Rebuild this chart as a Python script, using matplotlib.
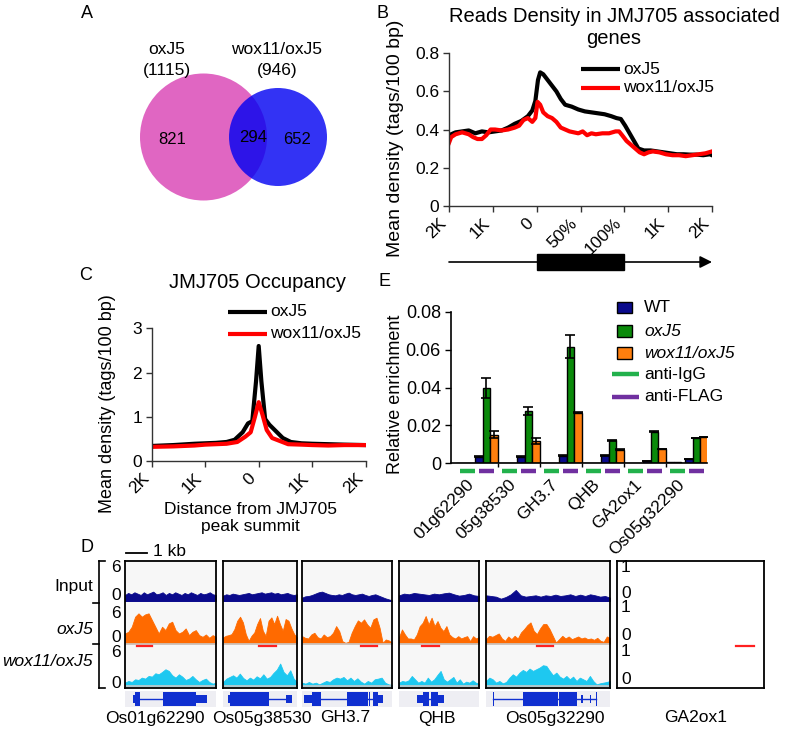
import numpy as np
import matplotlib
matplotlib.use('Agg')
import matplotlib.pyplot as plt
from matplotlib.patches import Circle, Rectangle
import matplotlib.transforms as mtransforms

W, H = 796, 731
plt.rcParams['font.family'] = ['Liberation Sans', 'DejaVu Sans']
plt.rcParams['font.size'] = 12.5

# ------------------------------------------------------------------ data
venn_sets = ['oxJ5', 'wox11/oxJ5']
venn_totals = [1115, 946]
venn_only = [821, 652]
venn_shared = 294

b_xticklabels = ['2K', '1K', '0', '50%', '100%', '1K', '2K']
b_x_ox = [0, 0.15, 0.3, 0.45, 0.6, 0.75, 0.9, 1.05, 1.2, 1.35, 1.5, 1.65, 1.8, 1.9, 1.97,
          2.03, 2.08, 2.15, 2.25, 2.35, 2.45, 2.55, 2.65, 2.8, 2.95, 3.1, 3.25, 3.4, 3.55,
          3.7, 3.82, 3.92, 4.02, 4.12, 4.22, 4.32, 4.45, 4.6, 4.75, 4.9, 5.05, 5.2, 5.35,
          5.5, 5.65, 5.8, 5.95, 6.0]
b_oxj5 = [0.37, 0.385, 0.39, 0.395, 0.38, 0.39, 0.385, 0.39, 0.395, 0.41, 0.43, 0.445, 0.47,
          0.50, 0.55, 0.66, 0.70, 0.69, 0.66, 0.63, 0.60, 0.56, 0.53, 0.52, 0.505, 0.495,
          0.49, 0.485, 0.48, 0.47, 0.46, 0.455, 0.42, 0.38, 0.34, 0.30, 0.29, 0.29, 0.285,
          0.28, 0.275, 0.27, 0.27, 0.268, 0.268, 0.265, 0.27, 0.265]
b_x_wox = [0, 0.05, 0.15, 0.3, 0.45, 0.55, 0.65, 0.75, 0.85, 0.95, 1.05, 1.2, 1.35, 1.5, 1.6,
           1.7, 1.8, 1.9, 1.97, 2.02, 2.08, 2.15, 2.25, 2.35, 2.45, 2.55, 2.65, 2.75, 2.85,
           2.95, 3.05, 3.15, 3.25, 3.35, 3.5, 3.65, 3.8, 3.88, 3.95, 4.05, 4.15, 4.25, 4.35,
           4.45, 4.55, 4.65, 4.8, 4.95, 5.1, 5.25, 5.4, 5.55, 5.7, 5.85, 6.0]
b_wox = [0.33, 0.36, 0.375, 0.385, 0.375, 0.36, 0.35, 0.35, 0.37, 0.40, 0.40, 0.395, 0.40,
         0.41, 0.42, 0.45, 0.46, 0.44, 0.46, 0.545, 0.53, 0.49, 0.47, 0.46, 0.44, 0.41, 0.40,
         0.39, 0.385, 0.38, 0.39, 0.37, 0.38, 0.375, 0.38, 0.38, 0.39, 0.39, 0.37, 0.34,
         0.32, 0.30, 0.28, 0.27, 0.28, 0.285, 0.28, 0.27, 0.265, 0.265, 0.26, 0.265, 0.27,
         0.275, 0.285]

c_xticklabels = ['2K', '1K', '0', '1K', '2K']
c_x_ox = [-2, -1.6, -1.2, -1.0, -0.8, -0.6, -0.45, -0.3, -0.2, -0.12, -0.05, 0, 0.05, 0.12,
          0.2, 0.3, 0.45, 0.6, 0.8, 1.0, 1.3, 1.6, 2.0]
c_oxj5 = [0.34, 0.36, 0.39, 0.40, 0.41, 0.43, 0.48, 0.65, 0.85, 0.9, 1.8, 2.6, 1.8, 0.95,
          0.82, 0.7, 0.52, 0.43, 0.40, 0.39, 0.38, 0.37, 0.36]
c_x_wox = [-2, -1.6, -1.2, -1.0, -0.8, -0.6, -0.4, -0.25, -0.15, -0.07, 0, 0.07, 0.15, 0.25,
           0.4, 0.55, 0.8, 1.0, 1.3, 1.6, 2.0]
c_wox = [0.32, 0.33, 0.35, 0.37, 0.38, 0.39, 0.43, 0.55, 0.65, 1.0, 1.33, 1.05, 0.7, 0.52,
         0.45, 0.38, 0.37, 0.36, 0.35, 0.36, 0.36]

e_genes = ['01g62290', '05g38530', 'GH3.7', 'QHB', 'GA2ox1', 'Os05g32290']
e_series = ['WT', 'oxJ5', 'wox11/oxJ5']
e_igg_wt = [0.0004, 0.0001, 0.0004, 0.0002, 0.0003, 0.0005]
e_igg_ox = [0.0001, 0.0001, 0.0001, 0.0001, 0.0001, 0.0005]
e_igg_wox = [0.0001, 0.0001, 0.0001, 0.0001, 0.0001, 0.0001]
e_flag_wt = [0.0035, 0.0035, 0.0040, 0.0042, 0.0013, 0.0023]
e_flag_ox = [0.0396, 0.0277, 0.0615, 0.0122, 0.0166, 0.0133]
e_flag_wox = [0.0151, 0.0117, 0.0267, 0.0071, 0.0075, 0.0140]
e_flag_wt_err = [0.0002, 0.0002, 0.0002, 0.0002, 0.0001, 0.0001]
e_flag_ox_err = [0.0052, 0.0022, 0.0060, 0.0003, 0.0003, 0.0002]
e_flag_wox_err = [0.0020, 0.0014, 0.0004, 0.0002, 0.0002, 0.0001]

d_genes = ['Os01g62290', 'Os05g38530', 'GH3.7', 'QHB', 'Os05g32290', 'GA2ox1']
d_tracks = ['Input', 'oxJ5', 'wox11/oxJ5']
input_os01 = [0.9, 1.2, 1.0, 1.3, 1.1, 0.9, 1.3, 1.0, 1.2, 1.4, 1.0, 1.1, 1.3, 0.9, 1.2, 1.0,
              1.3, 1.1, 0.9, 1.2, 1.0, 1.3, 1.1, 0.9, 1.2, 1.0, 1.1, 1.3, 1.0, 0.9]
oxj5_os01 = [1.5, 1.75, 2.5, 4.0, 4.5, 4.0, 4.35, 4.5, 3.5, 2.5, 1.5, 2.5, 2.0, 3.0, 3.25,
             2.0, 1.5, 1.75, 2.25, 1.25, 1.75, 2.0, 1.25, 1.0, 1.35, 0.85, 1.25, 1.0]
wox_os01 = [0.5, 0.75, 0.6, 1.0, 0.9, 1.25, 1.1, 1.5, 1.4, 1.9, 1.75, 2.1, 2.5, 2.25, 1.6,
            1.25, 1.75, 1.4, 0.9, 1.1, 1.5, 1.0, 0.6, 0.9, 1.1, 0.6, 0.35, 0.5]
input_os0538 = [0.8, 1.0, 0.9, 1.1, 1.0, 0.9, 1.0, 1.1, 1.2, 1.0, 1.1, 1.2, 1.3, 1.1, 1.2,
                1.3, 1.1, 1.2, 1.0, 1.1, 1.2, 1.0, 0.9, 1.0]
oxj5_os0538 = [0.9, 1.15, 1.25, 1.4, 2.15, 3.4, 4.0, 3.15, 1.4, 0.4, 1.15, 1.65, 2.9, 3.8,
               1.9, 1.15, 3.4, 3.9, 2.9, 4.15, 2.9, 1.9, 3.65, 3.4, 2.3, 1.4, 0.9]
wox_os0538 = [0.6, 1.1, 1.35, 1.6, 1.25, 1.85, 1.2, 0.85, 1.25, 0.95, 1.45, 1.15, 1.75, 1.1,
              1.35, 1.95, 2.45, 3.35, 2.1, 1.6, 2.35, 1.1, 0.6]
input_gh37 = [0.5, 0.7, 0.75, 0.9, 1.1, 1.3, 1.4, 1.2, 1.0, 0.9, 0.85, 1.0, 0.9, 1.1, 1.25,
              1.0, 0.9, 1.0, 1.1, 0.9, 0.75, 0.9, 1.0, 0.8, 0.6, 0.4, 0.25, 0.1]
oxj5_gh37 = [1.1, 0.85, 0.75, 1.35, 1.6, 0.95, 0.75, 1.35, 0.95, 1.1, 1.6, 2.6, 1.85, 0.35,
             0.1, 0.25, 1.6, 2.6, 3.45, 3.1, 3.6, 2.85, 2.35, 3.6, 3.85, 2.35, 0.1, 0.6, 0.45, 0.1]
wox_gh37 = [0.5, 0.35, 0.6, 0.35, 0.5, 0.25, 0.5, 0.75, 0.6, 1.0, 1.25, 1.1, 1.35, 0.85, 1.25,
            0.75, 1.15, 0.65, 0.35, 0.75, 0.5, 1.0, 1.1, 1.25, 0.5, 0.25, 0.15]
input_qhb = [0.85, 1.1, 1.0, 1.2, 1.1, 1.0, 0.9, 1.1, 1.0, 1.15, 1.25, 1.0, 0.8, 0.9, 1.1,
             0.85, 0.75]
oxj5_qhb = [0.95, 2.1, 1.35, 0.75, 0.75, 0.6, 1.35, 2.6, 3.1, 4.1, 2.85, 3.85, 2.6, 3.35,
            2.35, 1.85, 2.6, 1.35, 0.95, 0.75, 1.1, 0.75, 0.95, 1.1, 0.35, 1.1, 0.75, 0.95]
wox_qhb = [0.5, 0.75, 0.65, 0.85, 1.5, 1.0, 0.5, 0.75, 0.5, 1.25, 0.65, 1.0, 1.65, 2.25, 1.0,
           0.65, 1.0, 1.35, 0.5, 1.0, 0.35, 0.65, 0.5, 0.85, 0.5, 0.35]
input_os0532 = [0.85, 0.75, 0.65, 0.35, 0.6, 1.0, 1.65, 0.85, 0.65, 0.75, 0.85, 0.65, 0.85,
                0.75, 0.95, 0.75, 0.85, 1.0, 0.75, 0.95, 0.75, 1.0, 0.85, 0.65, 0.75, 0.5]
oxj5_os0532 = [0.65, 1.15, 1.0, 1.25, 1.5, 0.75, 0.4, 1.05, 0.65, 1.15, 0.75, 1.65, 2.15,
               2.75, 3.15, 1.9, 1.4, 2.25, 2.9, 2.9, 2.15, 1.15, 0.15, 0.65, 1.15, 0.75, 1.05,
               0.65, 0.85, 1.05, 0.75, 0.9, 0.65, 0.75, 0.55, 0.85, 0.4, 0.25, 1.05, 0.85]
wox_os0532 = [0.75, 1.25, 1.0, 0.5, 0.75, 0.4, 0.6, 1.25, 1.75, 1.4, 2.0, 2.4, 2.1, 2.6, 2.25,
              2.5, 2.75, 3.1, 3.0, 2.25, 1.6, 2.0, 1.4, 1.1, 1.5, 1.0, 1.4, 0.75, 1.25, 1.0,
              0.75, 1.5, 0.75, 0.25, 0.4, 0.5, 0.6, 0.75]
# peak regions (fraction of window)
peak_os01 = (0.13, 0.30)
peak_os0538 = (0.49, 0.72)
peak_gh37 = (0.65, 0.83)
peak_qhb = (0.29, 0.50)
peak_os0532 = (0.41, 0.54)
peak_ga2ox1 = (0.81, 0.93)
# gene models (fraction of window)
model_os01 = [('mid', 0.09, 0.11), ('tall', 0.11, 0.16), ('intron', 0.16, 0.42),
              ('tall', 0.42, 0.78), ('mid', 0.78, 0.90)]
model_os0538 = [('mid', 0.07, 0.10), ('tall', 0.10, 0.62), ('intron', 0.62, 0.85),
                ('mid', 0.85, 0.93)]
model_gh37 = [('mid', 0.02, 0.11), ('tall', 0.11, 0.21), ('intron', 0.21, 0.79),
              ('tall', 0.50, 0.73), ('tall', 0.74, 0.76), ('tall', 0.79, 0.84),
              ('mid', 0.84, 0.90)]
model_qhb = [('mid', 0.23, 0.30), ('tall', 0.30, 0.37), ('intron', 0.37, 0.40),
             ('tall', 0.40, 0.49), ('mid', 0.49, 0.56)]
model_os0532 = [('tall', 0.055, 0.065), ('intron', 0.06, 0.89), ('tall', 0.30, 0.58),
                ('tall', 0.59, 0.73), ('mid', 0.77, 0.78), ('mid', 0.835, 0.845),
                ('tall', 0.885, 0.895)]

# ------------------------------------------------------------------ figure
fig = plt.figure(figsize=(W / 100, H / 100), dpi=100)


def R(x0, y0, x1, y1):
    return [x0 / W, 1 - y1 / H, (x1 - x0) / W, (y1 - y0) / H]


ov = fig.add_axes([0, 0, 1, 1])
ov.set_xlim(0, W)
ov.set_ylim(H, 0)
ov.axis('off')
ov.set_zorder(10)
ov.patch.set_alpha(0)


def T(x, y, s, **kw):
    kw.setdefault('ha', 'center')
    kw.setdefault('va', 'center')
    ov.text(x, y, s, **kw)


def style_axes(ax, color='#333333'):
    for s in ['top', 'right']:
        ax.spines[s].set_visible(False)
    for s in ['left', 'bottom']:
        ax.spines[s].set_color(color)
        ax.spines[s].set_linewidth(1.0)
    ax.tick_params(direction='out', length=4, width=1, color=color, labelsize=12.5, pad=3)


# ---------------- A: Venn
ov.add_patch(Circle((203.5, 137), 63.5, facecolor='#E066C2', edgecolor='none'))
ov.add_patch(Circle((278, 137), 49, facecolor=(0, 0, 0.95), alpha=0.8, edgecolor='none'))
T(87, 14, 'A', fontsize=13)
T(167, 49, venn_sets[0], fontsize=12.5)
T(167, 70, f'({venn_totals[0]})', fontsize=12.5)
T(277, 49, venn_sets[1], fontsize=12.5)
T(277, 70, f'({venn_totals[1]})', fontsize=12.5)
T(172, 140, str(venn_only[0]), fontsize=12)
T(253, 138, str(venn_shared), fontsize=12)
T(297.5, 140, str(venn_only[1]), fontsize=12)

# ---------------- B
T(383, 14, 'B', fontsize=13)
axB = fig.add_axes(R(449, 53.3, 712, 205.7))
axB.plot(b_x_ox, b_oxj5, color='black', lw=3)
axB.plot(b_x_wox, b_wox, color='#FF0000', lw=3)
axB.set_xlim(0, 6)
axB.set_ylim(0, 0.8)
axB.set_xticks(range(len(b_xticklabels)))
axB.set_xticklabels(b_xticklabels, rotation=45, ha='right')
axB.set_yticks([0, 0.2, 0.4, 0.6, 0.8])
axB.set_yticklabels(['0', '0.2', '0.4', '0.6', '0.8'])
style_axes(axB)
T(614, 28, 'Reads Density in JMJ705 associated\ngenes', fontsize=14.5)
T(395, 138, 'Mean density (tags/100 bp)', rotation=90, fontsize=14)
ov.plot([581, 620], [69, 69], color='black', lw=3, solid_capstyle='butt')
ov.plot([581, 620], [88, 88], color='#FF0000', lw=3, solid_capstyle='butt')
T(623, 69, venn_sets[0], ha='left')
T(623, 88, venn_sets[1], ha='left')

axG = fig.add_axes(R(449, 248, 712, 276))
axG.set_xlim(0, 6)
axG.set_ylim(-1, 1)
axG.axis('off')
axG.annotate('', xy=(6, 0), xytext=(0, 0),
             arrowprops=dict(arrowstyle='-|>', color='black', lw=1.2, mutation_scale=18,
                             shrinkA=0, shrinkB=0))
axG.add_patch(Rectangle((2, -0.6), 2, 1.2, facecolor='black', edgecolor='black'))

# ---------------- C
T(86, 275, 'C', fontsize=13)
axC = fig.add_axes(R(151.7, 328.3, 365.7, 461))
axC.plot(c_x_ox, c_oxj5, color='black', lw=3)
axC.plot(c_x_wox, c_wox, color='#FF0000', lw=3)
axC.set_xlim(-2, 2)
axC.set_ylim(0, 3)
axC.set_xticks([-2, -1, 0, 1, 2])
axC.set_xticklabels(c_xticklabels, rotation=45, ha='right')
axC.set_yticks([0, 1, 2, 3])
style_axes(axC)
T(257.5, 283, 'JMJ705 Occupancy', fontsize=14.5)
T(108, 404, 'Mean density (tags/100 bp)', rotation=90, fontsize=13)
ov.plot([228, 267], [312, 312], color='black', lw=3, solid_capstyle='butt')
ov.plot([228, 267], [334, 334], color='#FF0000', lw=3, solid_capstyle='butt')
T(270, 312, venn_sets[0], ha='left')
T(270, 334, venn_sets[1], ha='left')
T(250, 518, 'Distance from JMJ705\npeak summit', fontsize=12.5, linespacing=1.1)

# ---------------- E
T(384, 281, 'E', fontsize=13)
axE = fig.add_axes(R(450.7, 311.7, 707, 463.3))
col_wt, col_ox, col_wox = '#0A0A8C', '#0A8A0A', '#FF7F0E'
col_igg, col_flag = '#22B14C', '#7030A0'
gx = np.arange(len(e_genes))
bw = 0.176
off = 0.226
for sub, (wt, ox, wox) in [(-off, (e_igg_wt, e_igg_ox, e_igg_wox)),
                           (off, (e_flag_wt, e_flag_ox, e_flag_wox))]:
    for k, (vals, col) in enumerate([(wt, col_wt), (ox, col_ox), (wox, col_wox)]):
        axE.bar(gx + sub + (k - 1) * bw, vals, width=bw, color=col, edgecolor='black',
                linewidth=1.0, zorder=2)
for k, (vals, err) in enumerate([(e_flag_wt, e_flag_wt_err), (e_flag_ox, e_flag_ox_err),
                                 (e_flag_wox, e_flag_wox_err)]):
    axE.errorbar(gx + off + (k - 1) * bw, vals, yerr=err, fmt='none', ecolor='black',
                 elinewidth=1.2, capsize=3.5, capthick=1.2, zorder=3)
trE = mtransforms.blended_transform_factory(axE.transData, axE.transAxes)
for g in gx:
    axE.plot([g - off - 0.17, g - off + 0.17], [-0.05, -0.05], color=col_igg, lw=3.2,
             transform=trE, clip_on=False, solid_capstyle='butt')
    axE.plot([g + off - 0.17, g + off + 0.17], [-0.05, -0.05], color=col_flag, lw=3.2,
             transform=trE, clip_on=False, solid_capstyle='butt')
axE.set_xlim(-0.626, 5.476)
axE.set_ylim(0, 0.08)
axE.set_yticks([0, 0.02, 0.04, 0.06, 0.08])
axE.set_yticklabels(['0', '0.02', '0.04', '0.06', '0.08'])
axE.set_xticks(gx)
axE.set_xticklabels(e_genes, rotation=45, ha='right')
axE.set_xticks(gx[:-1] + 0.5, minor=True)
style_axes(axE, color='black')
axE.spines['left'].set_linewidth(1.2)
axE.spines['bottom'].set_linewidth(1.2)
axE.tick_params(axis='x', which='major', length=0, pad=10, labelsize=12.5)
axE.tick_params(axis='x', which='minor', length=3, width=1, direction='out')
axE.tick_params(axis='y', labelsize=13)
T(395, 394, 'Relative enrichment', rotation=90, fontsize=13)
for yc, col, lab, st in [(307.5, col_wt, e_series[0], 'normal'),
                         (331, col_ox, e_series[1], 'italic'),
                         (353, col_wox, e_series[2], 'italic')]:
    ov.add_patch(Rectangle((617, yc - 5.8), 15, 11.6, facecolor=col, edgecolor='black', lw=1))
    T(644, yc, lab, ha='left', style=st, fontsize=12.5)
ov.plot([612, 639], [374.3, 374.3], color=col_igg, lw=3.2, solid_capstyle='butt')
ov.plot([612, 639], [396.7, 396.7], color=col_flag, lw=3.2, solid_capstyle='butt')
T(644, 374.3, 'anti-IgG', ha='left', fontsize=12.5)
T(644, 396.7, 'anti-FLAG', ha='left', fontsize=12.5)

# ---------------- D
T(87, 547, 'D', fontsize=13)
ov.plot([126, 146.7], [553.3, 553.3], color='black', lw=1.3)
T(153, 552, '1 kb', ha='left', fontsize=12.5)
# bracket
ov.plot([99.3, 99.3], [561, 688], color='black', lw=1.2)
for yv, xs in [(561, (99.3, 105)), (602.7, (93, 99.3)), (644.3, (93, 99.3)), (688, (99.3, 105))]:
    ov.plot(list(xs), [yv, yv], color='black', lw=1.2)
for yv, s in [(567, '6'), (596, '0'), (613, '6'), (637, '0'), (652.5, '6'), (683, '0')]:
    T(116, yv, s, fontsize=12.5)
T(93, 586, d_tracks[0], ha='right', fontsize=12.5)
T(93, 629, d_tracks[1], ha='right', style='italic', fontsize=12.5)
T(93, 662, d_tracks[2], ha='right', style='italic', fontsize=12.5)

boxes = [(125, 216), (223, 297), (302, 392), (399, 479), (486, 610), (617, 764)]
cov = [(input_os01, oxj5_os01, wox_os01), (input_os0538, oxj5_os0538, wox_os0538),
       (input_gh37, oxj5_gh37, wox_gh37), (input_qhb, oxj5_qhb, wox_qhb),
       (input_os0532, oxj5_os0532, wox_os0532), None]
peaks = [peak_os01, peak_os0538, peak_gh37, peak_qhb, peak_os0532, peak_ga2ox1]
models = [model_os01, model_os0538, model_gh37, model_qhb, model_os0532, None]
label_x = [155, 262, 345, 437, 555, 696]
track_cols = ['#0A0A8C', '#FF6A00', '#1EC8F0']
bases = [87, 44.5, 2]
scale = 6.7
for i, (x0, x1) in enumerate(boxes):
    ax = fig.add_axes(R(x0, 561, x1, 688))
    ax.set_xlim(0, 1)
    ax.set_ylim(0, 127)
    ax.set_xticks([])
    ax.set_yticks([])
    for s in ax.spines.values():
        s.set_linewidth(1.3)
        s.set_color('black')
    if cov[i] is not None:
        ax.set_facecolor('#F7F7F7')
        for vals, col, b in zip(cov[i], track_cols, bases):
            v = np.asarray(vals)
            xs = np.linspace(0, 1, len(v))
            ax.fill_between(xs, b, b + v * scale, color=col, lw=0.6, edgecolor=col)
            ax.plot([0, 1], [b, b], color=col if b == bases[0] else '#C8C8C8', lw=1.2)
    else:
        ax.set_facecolor('white')
        for yv, s in [(568, '1'), (593, '0'), (608, '1'), (636, '0'), (651, '1'), (679, '0')]:
            T(621, yv, s, ha='left', fontsize=12.5)
    p0, p1 = peaks[i]
    ax.plot([p0, p1], [688 - 646, 688 - 646], color='#FF2020', lw=1.6)
    if models[i] is not None:
        ag = fig.add_axes(R(x0, 691, x1, 707))
        ag.set_xlim(0, 1)
        ag.set_ylim(-1, 1)
        ag.set_facecolor('#EEEEF3')
        ag.set_xticks([])
        ag.set_yticks([])
        for s in ag.spines.values():
            s.set_visible(False)
        for kind, a, b in models[i]:
            if kind == 'intron':
                ag.plot([a, b], [0, 0], color='#1030D0', lw=1.0)
            else:
                h = 0.9 if kind == 'tall' else 0.5
                ag.add_patch(Rectangle((a, -h), b - a, 2 * h, facecolor='#1030D0',
                                       edgecolor='none'))
    T(label_x[i], 718, d_genes[i], fontsize=12.5)

fig.savefig('out.png', dpi=100)
